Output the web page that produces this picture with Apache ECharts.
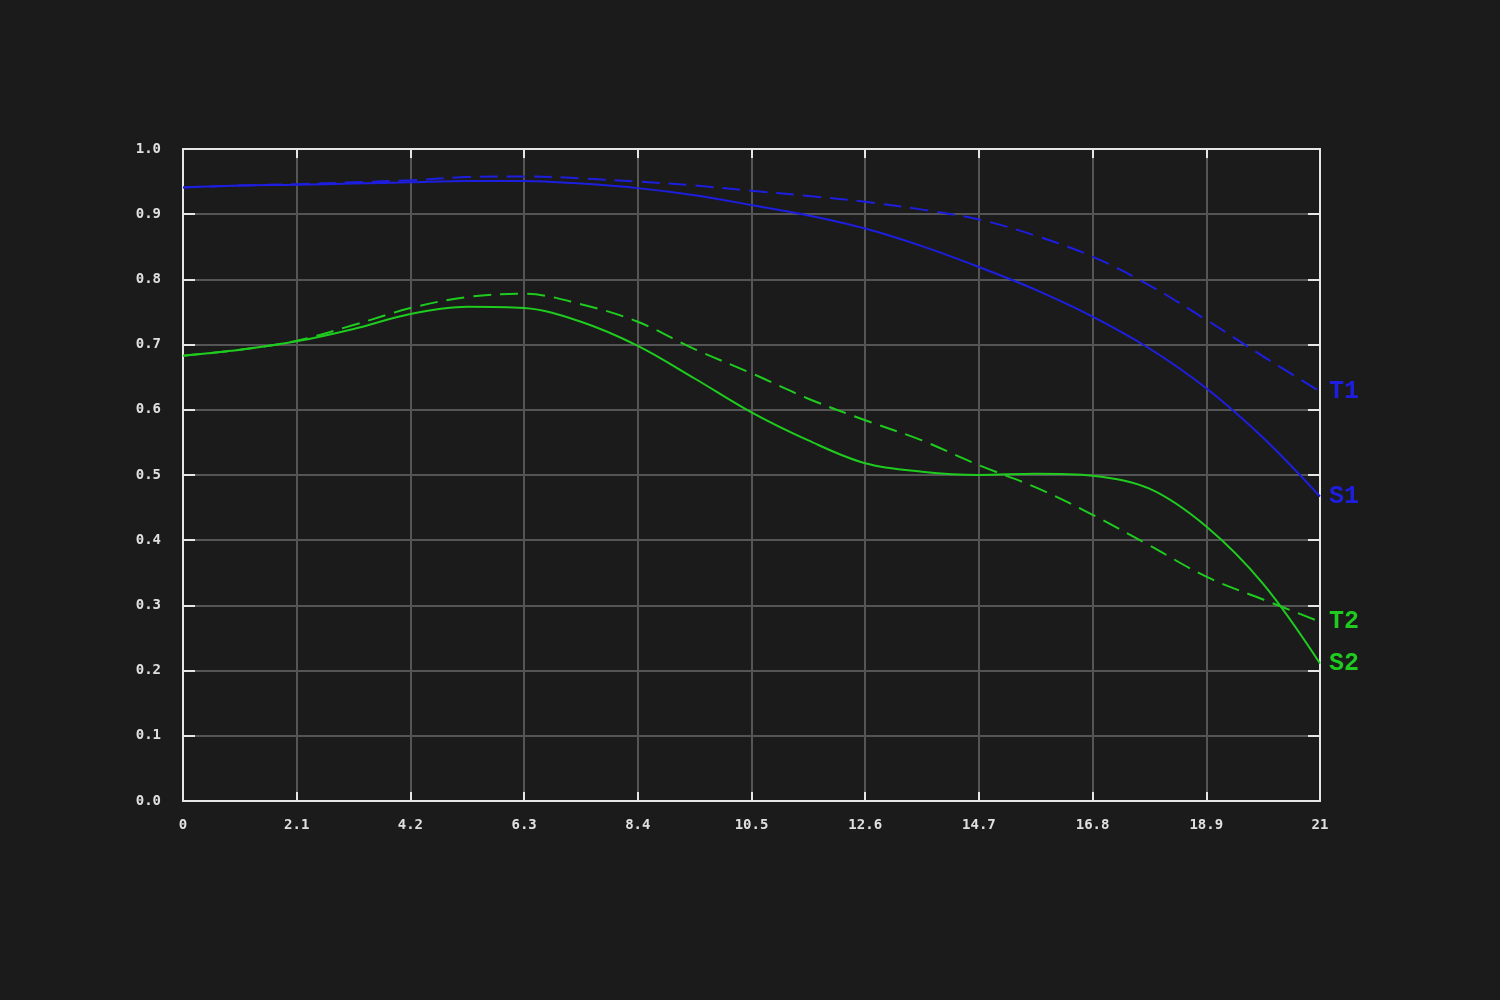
<!DOCTYPE html>
<html>
<head>
<meta charset="utf-8">
<script src="https://cdn.jsdelivr.net/npm/echarts@6/dist/echarts.min.js"></script>
<style>
html,body{margin:0;padding:0;background:#1b1b1b;}
#chart{width:1500px;height:1000px;}
</style>
</head>
<body>
<div id="chart"></div>
<script>
const xValues = [0, 1.05, 2.1, 3.15, 4.2, 5.25, 6.3, 7.35, 8.4, 9.45, 10.5, 11.55, 12.6, 13.65, 14.7, 15.75, 16.8, 17.85, 18.9, 19.95, 21];
const S1 = [0.941, 0.944, 0.945, 0.947, 0.949, 0.951, 0.951, 0.947, 0.940, 0.929, 0.914, 0.898, 0.878, 0.851, 0.819, 0.784, 0.743, 0.694, 0.633, 0.557, 0.467];
const T1 = [0.941, 0.944, 0.946, 0.949, 0.952, 0.957, 0.958, 0.955, 0.950, 0.944, 0.936, 0.928, 0.919, 0.907, 0.892, 0.867, 0.835, 0.791, 0.738, 0.682, 0.628];
const S2 = [0.683, 0.692, 0.705, 0.724, 0.747, 0.758, 0.756, 0.735, 0.698, 0.648, 0.596, 0.553, 0.518, 0.505, 0.500, 0.502, 0.499, 0.479, 0.421, 0.333, 0.211];
const T2 = [0.683, 0.692, 0.706, 0.730, 0.756, 0.773, 0.778, 0.762, 0.735, 0.693, 0.656, 0.617, 0.584, 0.553, 0.515, 0.481, 0.439, 0.392, 0.344, 0.309, 0.275];
const seriesNames = ['S1', 'T1', 'S2', 'T2'];
const xTickStep = 2.1;
const yTickStep = 0.1;

const BLUE = '#1e1ee0';
const GREEN = '#1ecb1e';
const AXIS = '#e6e6e6';
const GRIDC = '#555555';
const labelFont = {color: '#e0e0e0', fontFamily: 'DejaVu Sans Mono', fontSize: 14, fontWeight: 'bold'};

function pairs(ys){ return xValues.map((x,i)=>[x, ys[i]]); }

function mk(name, data, color, dashed){
  return {
    name: name, type: 'line', data: pairs(data), smooth: 0.35, showSymbol: false,
    xAxisIndex: 0, yAxisIndex: 0,
    lineStyle: {color: color, width: 2, type: dashed ? [18, 9] : 'solid'},
    itemStyle: {color: color},
    endLabel: {show: true, formatter: name, color: color, distance: 9,
      fontFamily: 'Liberation Mono', fontWeight: 'bold', fontSize: 25},
    emphasis: {disabled: true}, animation: false
  };
}

const tickStyle = {show: true, inside: true, lineStyle: {color: AXIS, width: 2}};
const lineStyleAxis = {show: true, onZero: false, lineStyle: {color: AXIS, width: 2}};

const chart = echarts.init(document.getElementById('chart'));
chart.setOption({
  backgroundColor: '#1b1b1b',
  animation: false,
  grid: {left: 183, right: 180, top: 149, bottom: 199, containLabel: false},
  xAxis: [
    {type: 'value', min: 0, max: 21, interval: xTickStep, position: 'bottom',
     axisLine: lineStyleAxis,
     axisTick: Object.assign({length: 9}, tickStyle),
     axisLabel: Object.assign({margin: 17, formatter: v => String(Math.round(v*10)/10)}, labelFont),
     splitLine: {show: true, lineStyle: {color: GRIDC, width: 2}}},
    {type: 'value', min: 0, max: 21, interval: xTickStep, position: 'top',
     axisLine: lineStyleAxis,
     axisTick: Object.assign({length: 9}, tickStyle),
     axisLabel: {show: false}, splitLine: {show: false}}
  ],
  yAxis: [
    {type: 'value', min: 0, max: 1, interval: yTickStep, position: 'left',
     axisLine: lineStyleAxis,
     axisTick: Object.assign({length: 12}, tickStyle),
     axisLabel: Object.assign({margin: 22, formatter: v => v.toFixed(1)}, labelFont),
     splitLine: {show: true, lineStyle: {color: GRIDC, width: 2}}},
    {type: 'value', min: 0, max: 1, interval: yTickStep, position: 'right',
     axisLine: lineStyleAxis,
     axisTick: Object.assign({length: 12}, tickStyle),
     axisLabel: {show: false}, splitLine: {show: false}}
  ],
  series: [
    mk(seriesNames[1], T1, BLUE, true),
    mk(seriesNames[0], S1, BLUE, false),
    mk(seriesNames[3], T2, GREEN, true),
    mk(seriesNames[2], S2, GREEN, false)
  ]
});
</script>
</body>
</html>
